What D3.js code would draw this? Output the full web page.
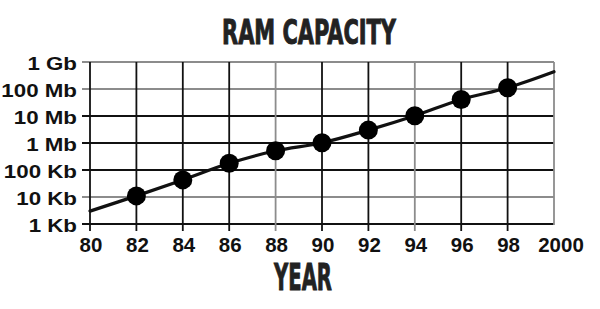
<!DOCTYPE html>
<html>
<head>
<meta charset="utf-8">
<script src="https://cdn.jsdelivr.net/npm/d3@7"></script>
<style>
  html, body { margin: 0; padding: 0; background: #fff; }
  svg { display: block; }
</style>
</head>
<body>
<div id="chart"></div>
<script>
// years shown on the x axis
var years = [1980, 1982, 1984, 1986, 1988, 1990, 1992, 1994, 1996, 1998, 2000];
var yearLabels = ["80", "82", "84", "86", "88", "90", "92", "94", "96", "98", "2000"];

// capacity ticks, in Kb
var capTicks = [1, 10, 100, 1000, 10000, 100000, 1000000];
var capLabels = ["1 Kb", "10 Kb", "100 Kb", "1 Mb", "10 Mb", "100 Mb", "1 Gb"];

// trend line (Kb)
var lineYears = [1980, 1982, 1984, 1986, 1988, 1990, 1992, 1994, 1996, 1998, 2000];
var lineKb = [3, 11, 43, 177, 515, 1020, 3000, 10200, 41000, 112000, 437000];

// dots
var dotYears = [1982, 1984, 1986, 1988, 1990, 1992, 1994, 1996, 1998];
var dotKb = [11, 43, 177, 515, 1020, 3000, 10200, 41000, 112000];

// grid lines drawn in gray rather than black
var grayYears = [1988, 1994, 2000];
var grayCaps = [10, 100000, 1000000];

var W = 600, H = 309;
var margin = {top: 62, right: 46, bottom: 85, left: 90};
var width = W - margin.left - margin.right,
    height = H - margin.top - margin.bottom;

var x = d3.scaleLinear().domain([1980, 2000]).range([0, width]);
var y = d3.scaleLog().domain([1, 1000000]).range([height, 0]);

var svg = d3.select("#chart").append("svg")
    .attr("width", W)
    .attr("height", H);

var g = svg.append("g")
    .attr("transform", "translate(" + margin.left + "," + margin.top + ")");

// squeeze / stretch a text node to a target width
function fitText(sel, target, sy) {
  var w = sel.node().getComputedTextLength();
  var t = sel.attr("data-pos");
  sel.attr("transform", t + " scale(" + (target / w) + "," + (sy || 1) + ")");
}

// horizontal grid
g.selectAll(".hgrid")
  .data(capTicks)
  .enter().append("line")
    .attr("class", "hgrid")
    .attr("x1", -8)
    .attr("x2", width)
    .attr("y1", function(d) { return y(d); })
    .attr("y2", function(d) { return y(d); })
    .attr("stroke", function(d) { return grayCaps.indexOf(d) >= 0 ? "#8c8c8c" : "#111"; })
    .attr("stroke-width", 1.8);

// vertical grid + ticks
g.selectAll(".vgrid")
  .data(years)
  .enter().append("line")
    .attr("class", "vgrid")
    .attr("x1", function(d) { return x(d); })
    .attr("x2", function(d) { return x(d); })
    .attr("y1", 0)
    .attr("y2", function(d) { return d === 2000 ? height + 1 : height + 7; })
    .attr("stroke", function(d) { return grayYears.indexOf(d) >= 0 ? "#8c8c8c" : "#111"; })
    .attr("stroke-width", 1.8);

// y labels
g.selectAll(".ylab")
  .data(capTicks)
  .enter().append("text")
    .attr("class", "ylab")
    .attr("text-anchor", "end")
    .attr("transform", function(d) { return "translate(-13," + (y(d) + 7.5) + ") scale(1.24,1)"; })
    .style("font-family", "'Liberation Sans', Arial, sans-serif")
    .style("font-weight", "bold")
    .style("font-size", "18px")
    .attr("fill", "#111")
    .text(function(d, i) { return capLabels[i]; });

// x labels
g.selectAll(".xlab")
  .data(years)
  .enter().append("text")
    .attr("class", "xlab")
    .attr("text-anchor", "middle")
    .attr("transform", function(d) {
      var dx = d === 2000 ? 7 : 1;
      return "translate(" + (x(d) + dx) + "," + (height + 28) + ") scale(1.05,1)";
    })
    .style("font-family", "'Liberation Sans', Arial, sans-serif")
    .style("font-weight", "bold")
    .style("font-size", "19.5px")
    .attr("fill", "#111")
    .text(function(d, i) { return yearLabels[i]; });

// trend line
var valueline = d3.line()
    .x(function(d, i) { return x(lineYears[i]); })
    .y(function(d) { return y(d); })
    .curve(d3.curveCatmullRom);

g.append("path")
    .datum(lineKb)
    .attr("d", valueline)
    .attr("fill", "none")
    .attr("stroke", "#111")
    .attr("stroke-width", 3.2)
    .attr("stroke-linecap", "round");

// dots
g.selectAll(".dot")
  .data(dotKb)
  .enter().append("circle")
    .attr("class", "dot")
    .attr("cx", function(d, i) { return x(dotYears[i]); })
    .attr("cy", function(d) { return y(d); })
    .attr("r", 9.5)
    .attr("fill", "#000");

// title
var title = svg.append("text")
    .attr("data-pos", "translate(309,44)")
    .attr("text-anchor", "middle")
    .style("font-family", "'Liberation Sans Narrow', 'DejaVu Sans Condensed', sans-serif")
    .style("font-weight", "bold")
    .style("font-size", "33px")
    .attr("fill", "#222")
    .attr("stroke", "#222")
    .attr("stroke-width", 0.9)
    .text("RAM CAPACITY");
fitText(title, 174);

// x axis title
var xt = svg.append("text")
    .attr("data-pos", "translate(303,290)")
    .attr("text-anchor", "middle")
    .style("font-family", "'Liberation Sans Narrow', 'DejaVu Sans Condensed', sans-serif")
    .style("font-weight", "bold")
    .style("font-size", "37px")
    .attr("fill", "#222")
    .attr("stroke", "#222")
    .attr("stroke-width", 0.9)
    .text("YEAR");
fitText(xt, 58);
</script>
</body>
</html>
